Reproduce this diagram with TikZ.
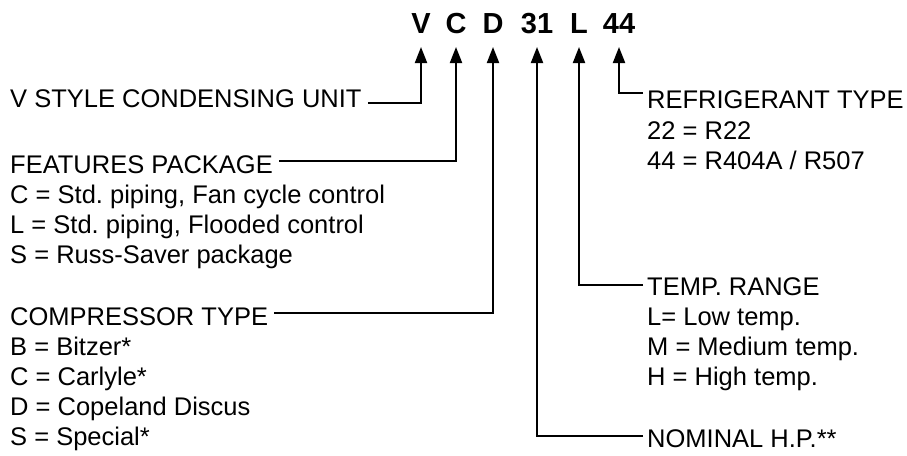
\documentclass[tikz,border=0pt]{standalone}
\usepackage{fontspec}
\setmainfont{Liberation Sans}
\usetikzlibrary{arrows.meta}
\begin{document}
\frenchspacing
\begin{tikzpicture}[x=1pt,y=-1pt,
  txt/.style={anchor=base west,inner sep=0pt,font=\fontsize{25.5}{30}\selectfont},
  ttl/.style={anchor=base,inner sep=0pt,font=\fontsize{29}{32}\selectfont\bfseries},
  conn/.style={line width=2pt,-{Triangle[length=16pt,width=12pt]}}]
\useasboundingbox (0,0) rectangle (907,455);
% title letters
\node[ttl] (tV)  at (421,33) {V};
\node[ttl] (tC)  at (456,33) {C};
\node[ttl] (tD)  at (493,33) {D};
\node[ttl] (t31) at (537,33) {31};
\node[ttl] (tL)  at (579,33) {L};
\node[ttl] (t44) at (619,33) {44};
% arrow tips
\coordinate (pV)  at (421,47);
\coordinate (pC)  at (456,47);
\coordinate (pD)  at (493,47);
\coordinate (p31) at (537,47);
\coordinate (pL)  at (579,47);
\coordinate (p44) at (619,47);
% left column
\node[txt] (vstyle) at (10,107) {V STYLE CONDENSING UNIT};
\node[txt] (feat) at (10,173) {FEATURES PACKAGE};
\node[txt] (f1) at (10,203) {C = Std. piping, Fan cycle control};
\node[txt] (f2) at (10,233) {L = Std. piping, Flooded control};
\node[txt] (f3) at (10,263) {S = Russ-Saver package};
\node[txt] (comp) at (10,325) {COMPRESSOR TYPE};
\node[txt] (c1) at (10,355) {B = Bitzer*};
\node[txt] (c2) at (10,385) {C = Carlyle*};
\node[txt] (c3) at (10,415) {D = Copeland Discus};
\node[txt] (c4) at (10,445) {S = Special*};
% right column
\node[txt] (ref) at (647,108) {REFRIGERANT TYPE};
\node[txt] (r1) at (647,139) {22 = R22};
\node[txt] (r2) at (647,169) {44 = R404A / R507};
\node[txt] (temp) at (647,295) {TEMP. RANGE};
\node[txt] (t1) at (647,325) {L= Low temp.};
\node[txt] (t2) at (647,355) {M = Medium temp.};
\node[txt] (t3) at (647,385) {H = High temp.};
\node[txt] (nom) at (647,447) {NOMINAL H.P.**};
% connectors
\draw[conn] ([xshift=6pt,yshift=4pt]vstyle.base east) -| (pV);
\draw[conn] ([xshift=6pt,yshift=12pt]feat.base east) -| (pC);
\draw[conn] ([xshift=6pt,yshift=12pt]comp.base east) -| (pD);
\draw[conn] ([xshift=-4pt,yshift=11pt]nom.base west) -| (p31);
\draw[conn] ([xshift=-4pt,yshift=10pt]temp.base west) -| (pL);
\draw[conn] ([xshift=-4pt,yshift=15pt]ref.base west) -| (p44);
\end{tikzpicture}
\end{document}
